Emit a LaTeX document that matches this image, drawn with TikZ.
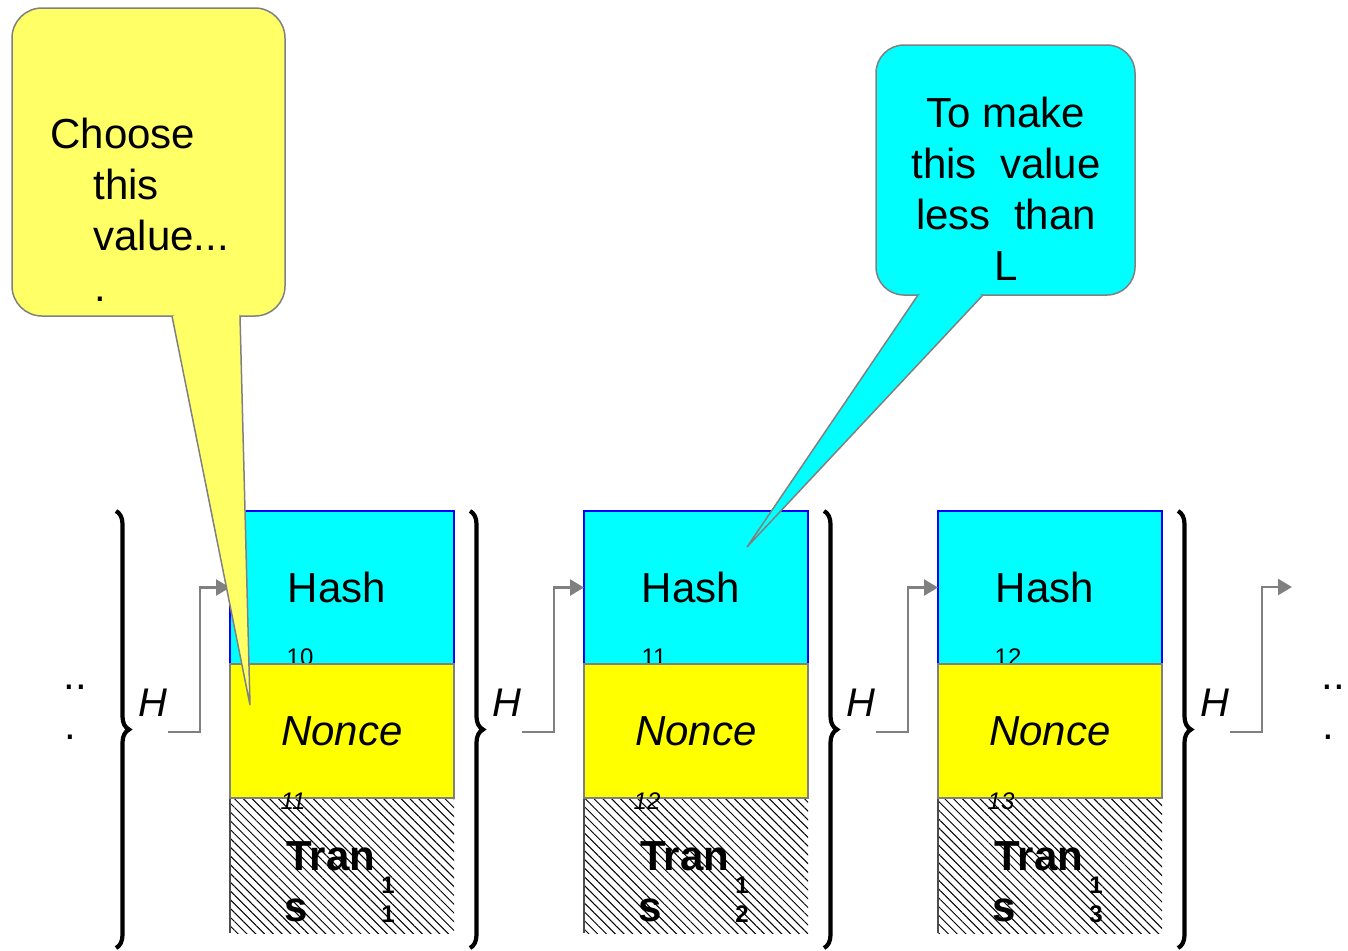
\documentclass[tikz,border=0pt]{standalone}
\usepackage{fontspec}
\setmainfont{Liberation Sans}
\usetikzlibrary{arrows.meta,decorations.pathreplacing,patterns.meta}
\definecolor{aqua}{HTML}{00FFFF}
\definecolor{lemon}{HTML}{FFFF00}
\definecolor{pale}{HTML}{FFFF66}
\definecolor{edge}{HTML}{808080}
\definecolor{rim}{HTML}{0000FF}

\tikzset{
  cell/.style={anchor=north west,minimum width=112pt,inner sep=0pt,outer sep=0pt},
  big/.style={font=\fontsize{21}{25.5}\selectfont},
  bigit/.style={font=\fontsize{21}{25.5}\selectfont\itshape},
  bigbf/.style={font=\fontsize{21}{25.5}\selectfont\bfseries},
  idx/.style={font=\fontsize{12}{14}\selectfont,inner sep=0pt},
  idxit/.style={font=\fontsize{12}{14}\selectfont\itshape,inner sep=0pt},
  idxbf/.style={font=\fontsize{12}{14}\selectfont\bfseries,inner sep=0pt,anchor=base west},
  hlab/.style={font=\fontsize{20}{24}\selectfont\itshape,inner sep=0pt,anchor=base west},
  link/.style={edge,line width=1.3pt,-{Triangle[length=7pt,width=8pt]}},
  curly/.style={decorate,decoration={brace,amplitude=6.5pt},line width=2.1pt},
  bubble/.style={draw=edge,line width=0.75pt},
}

\begin{document}
\begin{tikzpicture}[x=0.5pt,y=-0.5pt]
  \useasboundingbox (0,0) rectangle (1348,950);

  % three blocks: hash / nonce / transactions
  \foreach \i/\hn/\nn/\tn in {1/10/11/1,2/11/12/2,3/12/13/3}{
    \pgfmathsetmacro\x{230+354*(\i-1)}
    \node[cell,minimum height=67.5pt,
          pattern={Lines[angle=-45,distance=3.1pt,line width=0.5pt]}] (trans\i) at (\x,798) {};
    \draw[black!70,line width=0.8pt] (trans\i.north west) -- (trans\i.south west);
    \node[cell,minimum height=76.5pt,fill=aqua,draw=rim,line width=0.8pt,big] (hash\i) at (\x,511) {Hash\hspace*{5pt}};
    \node[idx] (hsub\i) at (\x+70,657) {\hn};
    \node[cell,minimum height=67pt,fill=lemon,draw=edge,line width=1pt,bigit] (nonce\i) at (\x,664) {Nonce};
    \node[idxit] (nsub\i) at (\x+63,801) {\nn};
    \node[bigbf,anchor=base west,inner sep=0pt] (tran\i) at (\x+56,870) {Tran};
    \node[bigbf,anchor=base west,inner sep=0pt] (tails\i) at (\x+54,921) {s};
    \node[idxbf] (tsa\i) at (\x+151,893) {1};
    \node[idxbf] (tsb\i) at (\x+151,922) {\tn};
  }

  \node[big,anchor=base west,inner sep=0pt] (dotsL) at (63,689) {..};
  \node[big,anchor=base west,inner sep=0pt] (dotL) at (64,739) {.};
  \node[big,anchor=base west,inner sep=0pt] (dotsR) at (1321,689) {..};
  \node[big,anchor=base west,inner sep=0pt] (dotR) at (1322,739) {.};

  % H(...) feeding the next block
  \coordinate (next) at (1292,587);
  \foreach \k/\dst in {0/hash1.west,1/hash2.west,2/hash3.west,3/next}{
    \draw[curly] (116+354*\k,511) -- (116+354*\k,948);
    \node[hlab] (h\k) at (138+354*\k,716) {H};
    \coordinate (out\k) at (168+354*\k,732);
    \draw[link] (out\k) -- ++(32,0) |- (\dst);
  }

  % callouts
  \coordinate (pick) at (250,705);
  \coordinate (aim) at (747,547);
  \draw[bubble,fill=pale,rounded corners=15pt] (12,8) rectangle (285,316);
  \draw[bubble,fill=pale] (172,316) -- (pick) -- (240,316);
  \fill[pale] (173.5,313) rectangle (238.5,318);
  \node[big,align=left,anchor=north west,inner sep=0pt] (choose) at (50,118)
    {Choose\\\hspace*{21.5pt}this\\\hspace*{21.5pt}value...\\\hspace*{22pt}.};

  \draw[bubble,fill=aqua,rounded corners=14pt] (876,45) rectangle (1135,295);
  \draw[bubble,fill=aqua] (918,295) -- (aim) -- (983,295);
  \fill[aqua] (920,292.5) rectangle (980,296.5);
  \node[big,align=center,anchor=north,inner sep=0pt] (goal) at (1006,97)
    {To make\\this\ \ value\\less\ \ than\\L};
\end{tikzpicture}
\end{document}
